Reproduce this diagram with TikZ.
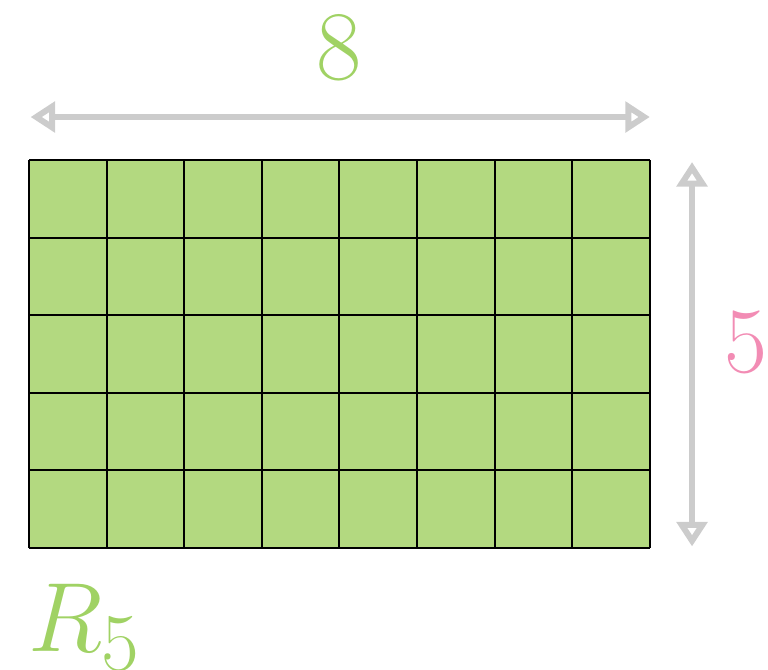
\documentclass[tikz,border=0pt]{standalone}
\usepackage{tikz}
\usetikzlibrary{arrows.meta, positioning}

\definecolor{cellgreen}{RGB}{179,217,128}
\definecolor{labelgreen}{RGB}{160,210,100}
\definecolor{labelpink}{RGB}{242,140,180}
\definecolor{dimgray}{RGB}{204,204,204}

\begin{document}
\begin{tikzpicture}[
    cell/.style={
        draw=black,
        fill=cellgreen,
        line width=0.75pt
    },
    dimarrow/.style={
        {Triangle[open, length=9pt, width=11pt]}-{Triangle[open, length=9pt, width=11pt]},
        draw=dimgray,
        line width=2.2pt
    },
    biglabel/.style={
        inner sep=0pt,
        font=\Huge,
        scale=1.45,
        transform shape
    }
]
\useasboundingbox (-0.374,-1.572) rectangle (9.523,7.062);

% --- grid (8 x 5) ---
\fill[cellgreen] (0,0) rectangle (8,5);
\draw[cell] (0,0) grid (8,5);

% --- dimension end points ---
\coordinate (topL) at (0.02,5.554);
\coordinate (topR) at (8.0,5.554);
\coordinate (sideT) at (8.544,4.974);
\coordinate (sideB) at (8.544,0.02);

% --- labels ---
\node[biglabel, text=labelgreen] (width) at (4.0,6.45) {$8$};
\node[biglabel, text=labelpink, scale=0.95] (height) at (9.24,2.65) {$5$};
\node[biglabel, text=labelgreen, anchor=base west] (name) at (-0.02,-1.33) {$R_5$};

% --- arrows ---
\draw[dimarrow] (topL) -- (topR);
\draw[dimarrow] (sideT) -- (sideB);

\end{tikzpicture}
\end{document}
